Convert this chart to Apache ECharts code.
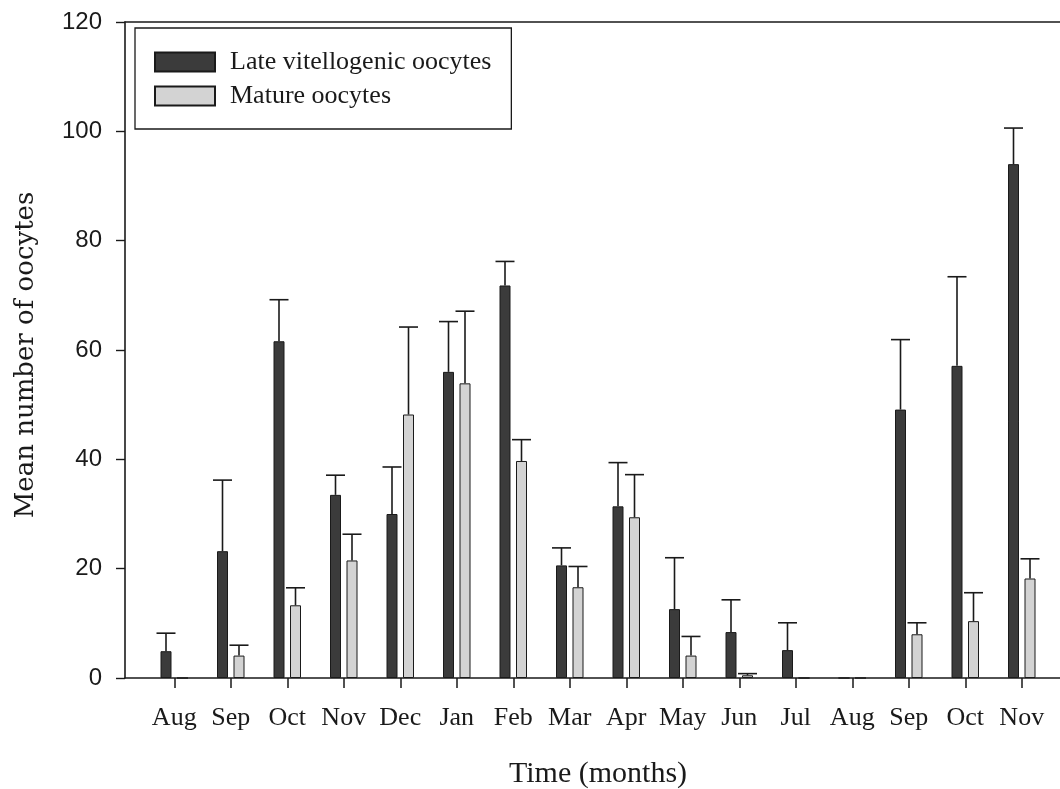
<!DOCTYPE html>
<html>
<head>
<meta charset="utf-8">
<title>Mean number of oocytes by month</title>
<script src="https://cdn.jsdelivr.net/npm/echarts@6/dist/echarts.min.js"></script>
<style>
  html, body { margin: 0; padding: 0; background: #ffffff; }
  #chart { width: 1060px; height: 789px; }
</style>
</head>
<body>
<div id="chart"></div>
<script>
// Sampling months (August through the following November)
const months = ['Aug', 'Sep', 'Oct', 'Nov', 'Dec', 'Jan', 'Feb', 'Mar', 'Apr', 'May', 'Jun', 'Jul', 'Aug', 'Sep', 'Oct', 'Nov'];

// Late vitellogenic oocytes: means and standard errors
const lateMean = [4.9, 23.2, 61.6, 33.5, 30.0, 56.0, 71.8, 20.6, 31.4, 12.6, 8.4, 5.1, 0, 49.1, 57.1, 94.0];
const lateErr  = [3.3, 13.0, 7.6, 3.6, 8.6, 9.2, 4.4, 3.2, 8.0, 9.4, 5.9, 5.0, 0, 12.8, 16.3, 6.6];

// Mature oocytes: means and standard errors
const matureMean = [0, 4.1, 13.3, 21.5, 48.2, 53.9, 39.7, 16.6, 29.4, 4.1, 0.5, 0, 0, 8.0, 10.4, 18.2];
const matureErr  = [0, 1.9, 3.2, 4.8, 16.0, 13.2, 3.9, 3.8, 7.8, 3.5, 0.3, 0, 0, 2.1, 5.2, 3.6];

const yTicks = [0, 20, 40, 60, 80, 100, 120];

const BAR_W = 11;
const BAR_GAP = 0.5;            // gap between the two bars, as a share of bar width
const PAIR_OFFSET = (BAR_W + BAR_W * BAR_GAP) / 2;
const CAP_W = 19;

const serif = '"Liberation Serif", "DejaVu Serif", serif';
const wideSerif = '"DejaVu Serif", "Liberation Serif", serif';
const sans = '"Liberation Sans", Arial, sans-serif';
const ink = '#1a1a1a';

// Upward-only error bars with a horizontal cap, offset onto the matching bar
function errorBars(means, errs, side) {
  return {
    type: 'custom',
    xAxisIndex: 0,
    yAxisIndex: 1,
    z: 5,
    silent: true,
    data: means.map((m, i) => [i, m, errs[i]]),
    renderItem: function (params, api) {
      const i = api.value(0), m = api.value(1), e = api.value(2);
      if (!(e > 0)) return null;
      const base = api.coord([i, m]);
      const top = api.coord([i, m + e]);
      const x = base[0] + side * PAIR_OFFSET;
      const style = { stroke: ink, lineWidth: 1.6 };
      return {
        type: 'group',
        children: [
          { type: 'line', shape: { x1: x, y1: base[1], x2: x, y2: top[1] }, style: style },
          { type: 'line', shape: { x1: x - CAP_W / 2, y1: top[1], x2: x + CAP_W / 2, y2: top[1] }, style: style }
        ]
      };
    }
  };
}

const chart = echarts.init(document.getElementById('chart'), null, { renderer: 'canvas' });

chart.setOption({
  backgroundColor: '#ffffff',
  animation: false,
  grid: [
    // bars and month ticks
    { left: 146, right: 10, top: 22, bottom: 111, containLabel: false, outerBoundsMode: 'none' },
    // frame: value axis, baseline and top rule
    { left: 125, right: 0, top: 22, bottom: 111, containLabel: false, outerBoundsMode: 'none' }
  ],
  legend: {
    orient: 'vertical',
    left: 135,
    top: 28,
    padding: [21, 20, 20, 19],
    borderColor: ink,
    borderWidth: 1.3,
    backgroundColor: '#ffffff',
    icon: 'rect',
    itemWidth: 60,
    itemHeight: 19,
    itemGap: 8,
    data: ['Late vitellogenic oocytes', 'Mature oocytes'],
    textStyle: { fontFamily: serif, fontSize: 26, color: ink, padding: [0, 0, 0, 10] }
  },
  xAxis: [
    {
      type: 'category',
      gridIndex: 0,
      data: months,
      axisLine: { show: false },
      axisTick: { show: true, alignWithLabel: true, length: 10, lineStyle: { color: ink, width: 1.5 } },
      axisLabel: { fontFamily: serif, fontSize: 26, color: ink, margin: 27, interval: 0 },
      splitLine: { show: false },
      name: 'Time (months)',
      nameLocation: 'middle',
      nameGap: 81,
      nameTextStyle: { fontFamily: serif, fontSize: 30, color: ink }
    },
    {
      type: 'value',
      gridIndex: 1,
      min: 0, max: 1,
      position: 'bottom',
      axisLine: { show: true, lineStyle: { color: ink, width: 1.6 } },
      axisTick: { show: false },
      axisLabel: { show: false },
      splitLine: { show: false }
    },
    {
      type: 'value',
      gridIndex: 1,
      min: 0, max: 1,
      position: 'top',
      axisLine: { show: true, lineStyle: { color: ink, width: 1.6 } },
      axisTick: { show: false },
      axisLabel: { show: false },
      splitLine: { show: false }
    }
  ],
  yAxis: [
    {
      type: 'value',
      gridIndex: 1,
      min: 0, max: 120, interval: 20,
      axisLine: { show: true, lineStyle: { color: ink, width: 1.6 } },
      axisTick: { show: true, inside: false, length: 9, lineStyle: { color: ink, width: 1.4 } },
      axisLabel: {
        fontFamily: sans, fontSize: 24, color: ink, margin: 23,
        formatter: v => (yTicks.indexOf(v) >= 0 ? String(v) : '')
      },
      splitLine: { show: false },
      name: 'Mean number of oocytes',
      nameLocation: 'middle',
      nameGap: 86,
      nameTextStyle: { fontFamily: wideSerif, fontSize: 26, color: ink, padding: [0, 10, 0, 0] }
    },
    {
      type: 'value',
      gridIndex: 0,
      min: 0, max: 120, interval: 20,
      show: false
    }
  ],
  series: [
    {
      name: 'Late vitellogenic oocytes',
      type: 'bar',
      xAxisIndex: 0,
      yAxisIndex: 1,
      barWidth: BAR_W,
      barGap: (BAR_GAP * 100) + '%',
      itemStyle: { color: '#3b3b3b', borderColor: ink, borderWidth: 1 },
      data: lateMean
    },
    {
      name: 'Mature oocytes',
      type: 'bar',
      xAxisIndex: 0,
      yAxisIndex: 1,
      barWidth: BAR_W,
      barGap: (BAR_GAP * 100) + '%',
      itemStyle: { color: '#d3d3d3', borderColor: ink, borderWidth: 1 },
      data: matureMean
    },
    errorBars(lateMean, lateErr, -1),
    errorBars(matureMean, matureErr, 1)
  ]
});
</script>
</body>
</html>
